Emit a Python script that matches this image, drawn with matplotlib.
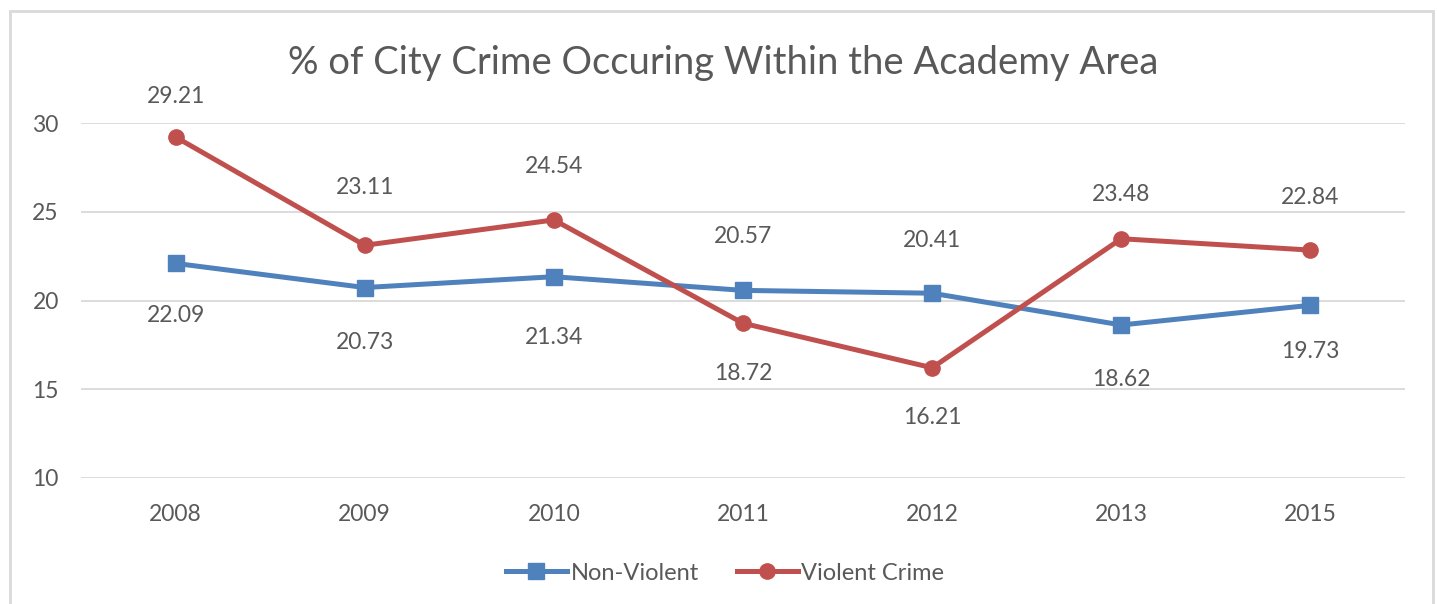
import matplotlib
matplotlib.use("Agg")
import matplotlib.pyplot as plt
from matplotlib.patches import Rectangle

plt.rcParams['font.family'] = ['Lato', 'DejaVu Sans']

years = ["2008", "2009", "2010", "2011", "2012", "2013", "2015"]
non_violent = [22.09, 20.73, 21.34, 20.57, 20.41, 18.62, 19.73]
violent = [29.21, 23.11, 24.54, 18.72, 16.21, 23.48, 22.84]
title = "% of City Crime Occuring Within the Academy Area"

# label offsets in pixels (positive = above)
nv_off = [-52, -55, -61, 54, 53, -55, -46]
v_off = [41, 58, 53, -50, -50, 44, 53]

BLUE = "#4F81BD"
RED = "#C0504D"
TXT = "#595959"
GRID = "#D9D9D9"

fig = plt.figure(figsize=(14.37, 6.04), dpi=100)
fig.patch.set_facecolor("white")
fig.add_artist(Rectangle((10/1437, -0.05), (1433-10)/1437, 1 - 11/604 + 0.05,
                         transform=fig.transFigure, fill=False,
                         edgecolor=GRID, linewidth=2))

ax = fig.add_axes([81/1437, 1-478/604, (1405-81)/1437, (478-123)/604])
x = list(range(len(years)))
ax.plot(x, non_violent, color=BLUE, lw=3.6, marker="s", markersize=11,
        label="Non-Violent", zorder=3)
ax.plot(x, violent, color=RED, lw=3.6, marker="o", markersize=11,
        label="Violent Crime", zorder=3)

for xi, v, o in zip(x, non_violent, nv_off):
    ax.annotate(f"{v:.2f}", (xi, v), xytext=(0, o*0.72), textcoords="offset points",
                ha="center", va="center", fontsize=16.5, color=TXT)
for xi, v, o in zip(x, violent, v_off):
    ax.annotate(f"{v:.2f}", (xi, v), xytext=(0, o*0.72), textcoords="offset points",
                ha="center", va="center", fontsize=16.5, color=TXT)

ax.set_xlim(-0.5, len(years)-0.5)
ax.set_ylim(10, 30)
ax.set_yticks([10, 15, 20, 25, 30])
ax.set_xticks(x)
ax.set_xticklabels(years)
ax.tick_params(axis="both", length=0, labelsize=16.5, colors=TXT)
ax.tick_params(axis="y", pad=16)
ax.tick_params(axis="x", pad=19)
ax.grid(axis="y", color=GRID, linewidth=1.3)
ax.set_axisbelow(True)
for s in ax.spines.values():
    s.set_visible(False)

fig.text(723/1437, 1-63/604, title, ha="center", va="center", fontsize=27.5, color=TXT)

leg = fig.legend(loc="center", bbox_to_anchor=(725/1437, 1-573/604), ncol=2,
                 frameon=False, fontsize=17, handlelength=2.6, handletextpad=0.15,
                 columnspacing=1.6)
for t in leg.get_texts():
    t.set_color(TXT)

fig.savefig("out.png", dpi=100)
